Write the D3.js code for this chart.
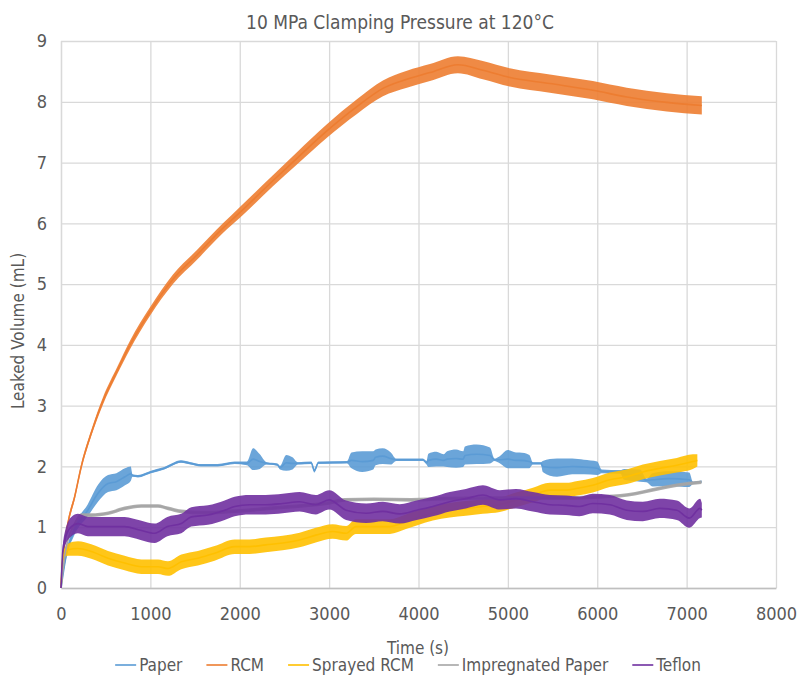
<!DOCTYPE html>
<html>
<head>
<meta charset="utf-8">
<script src="https://cdn.jsdelivr.net/npm/d3@7"></script>
<style>
body { margin: 0; background: #fff; }
text { font-family: "Liberation Sans Narrow", "DejaVu Sans Condensed", sans-serif; fill: #595959; }
</style>
</head>
<body>
<div class="wrapper"></div>
<script>

// values: time (s), mean volume (mL), noise half-width (mL)
var paperT = [0, 60, 150, 300, 414, 526, 620, 716, 780, 800, 861, 1007, 1156, 1342, 1450, 1566, 1753, 1943, 2080, 2150, 2225, 2300, 2420, 2450, 2520, 2590, 2650, 2800, 2835, 2880, 3200, 3250, 3370, 3494, 3520, 3600, 3690, 3750, 4050, 4090, 4110, 4200, 4280, 4320, 4420, 4500, 4520, 4650, 4800, 4850, 4900, 5000, 5090, 5130, 5240, 5280, 5370, 5390, 5550, 5720, 5850, 6000, 6050, 6260, 6300, 6480, 6550, 6620, 6800, 7030, 7070, 7166];
var paperV = [0, 0.55, 0.95, 1.28, 1.56, 1.72, 1.75, 1.83, 1.88, 1.85, 1.84, 1.91, 1.97, 2.08, 2.05, 2.02, 2.02, 2.06, 2.05, 2.12, 2.08, 2.05, 2.03, 1.98, 2.06, 2.05, 2.05, 2.06, 1.93, 2.06, 2.07, 2.10, 2.08, 2.10, 2.15, 2.17, 2.13, 2.11, 2.11, 2.06, 2.10, 2.12, 2.10, 2.12, 2.13, 2.12, 2.18, 2.20, 2.18, 2.11, 2.11, 2.12, 2.10, 2.10, 2.08, 2.05, 2.05, 2.00, 1.98, 2.00, 1.99, 1.97, 1.92, 1.91, 1.87, 1.85, 1.77, 1.78, 1.80, 1.78, 1.73, 1.75];
var paperN = [0, 0.05, 0.08, 0.10, 0.14, 0.14, 0.14, 0.14, 0.12, 0.02, 0.02, 0.02, 0.02, 0.02, 0.02, 0.02, 0.02, 0.02, 0.03, 0.18, 0.12, 0.02, 0.02, 0.03, 0.13, 0.10, 0.02, 0.02, 0.03, 0.02, 0.02, 0.13, 0.17, 0.15, 0.13, 0.13, 0.10, 0.02, 0.02, 0.03, 0.11, 0.12, 0.10, 0.13, 0.15, 0.13, 0.15, 0.16, 0.13, 0.02, 0.05, 0.15, 0.13, 0.13, 0.11, 0.02, 0.02, 0.09, 0.15, 0.13, 0.12, 0.11, 0.03, 0.03, 0.09, 0.10, 0.03, 0.11, 0.12, 0.12, 0.02, 0.02];

var rcmT = [0, 30, 78, 153, 227, 339, 470, 630, 772, 996, 1253, 1521, 1812, 2002, 2371, 2640, 2975, 3311, 3602, 3870, 4128, 4441, 4720, 5022, 5470, 5951, 6331, 6779, 7170];
var rcmV = [0, 0.60, 1.07, 1.50, 2.00, 2.55, 3.08, 3.58, 4.00, 4.55, 5.08, 5.48, 5.92, 6.18, 6.70, 7.07, 7.52, 7.92, 8.22, 8.37, 8.48, 8.61, 8.52, 8.40, 8.30, 8.19, 8.08, 7.99, 7.94];
var rcmN = [0, 0.05, 0.05, 0.05, 0.05, 0.05, 0.06, 0.06, 0.07, 0.07, 0.08, 0.08, 0.08, 0.09, 0.09, 0.10, 0.11, 0.12, 0.13, 0.14, 0.14, 0.14, 0.15, 0.15, 0.15, 0.15, 0.15, 0.15, 0.15];

var sprayT = [0, 22, 78, 190, 339, 526, 712, 899, 1085, 1197, 1346, 1532, 1719, 1943, 2110, 2290, 2480, 2670, 2850, 3040, 3190, 3300, 3490, 3680, 3860, 3980, 4160, 4350, 4530, 4720, 4910, 5090, 5280, 5470, 5650, 5780, 5950, 6140, 6330, 6510, 6700, 6890, 7070, 7120];
var sprayV = [0, 0.52, 0.63, 0.65, 0.60, 0.49, 0.41, 0.35, 0.35, 0.32, 0.43, 0.49, 0.57, 0.68, 0.68, 0.71, 0.74, 0.79, 0.87, 0.93, 0.90, 1.01, 1.01, 1.01, 1.09, 1.15, 1.23, 1.28, 1.31, 1.34, 1.37, 1.45, 1.53, 1.61, 1.61, 1.64, 1.69, 1.78, 1.83, 1.91, 1.97, 2.02, 2.08, 2.10];
var sprayN = [0, 0.06, 0.10, 0.12, 0.12, 0.12, 0.12, 0.12, 0.12, 0.12, 0.12, 0.12, 0.12, 0.12, 0.12, 0.12, 0.12, 0.12, 0.12, 0.12, 0.12, 0.12, 0.12, 0.12, 0.12, 0.12, 0.12, 0.12, 0.12, 0.12, 0.12, 0.12, 0.12, 0.12, 0.12, 0.12, 0.12, 0.12, 0.12, 0.12, 0.12, 0.12, 0.12, 0.10];

var impT = [0, 50, 150, 227, 339, 526, 712, 899, 1085, 1197, 1346, 1600, 2000, 2500, 3000, 3170, 3500, 3920, 4280, 4800, 5500, 6030, 6330, 6514, 6700, 6887, 7166];
var impV = [0, 0.60, 1.05, 1.20, 1.20, 1.23, 1.31, 1.35, 1.35, 1.31, 1.26, 1.24, 1.27, 1.33, 1.40, 1.45, 1.46, 1.45, 1.47, 1.48, 1.48, 1.50, 1.53, 1.58, 1.64, 1.69, 1.74];
var impN = [0, 0.02, 0.03, 0.03, 0.03, 0.03, 0.03, 0.03, 0.03, 0.03, 0.03, 0.03, 0.03, 0.03, 0.03, 0.03, 0.03, 0.03, 0.03, 0.03, 0.03, 0.03, 0.03, 0.03, 0.03, 0.03, 0.03];

var teflonT = [0, 20, 41, 116, 190, 300, 530, 712, 890, 1048, 1190, 1346, 1458, 1644, 1831, 1943, 2110, 2290, 2480, 2670, 2850, 3000, 3190, 3415, 3600, 3790, 3980, 4160, 4350, 4530, 4720, 4910, 5090, 5280, 5470, 5650, 5800, 5950, 6140, 6330, 6510, 6700, 6890, 7030, 7150, 7170];
var teflonV = [0, 0.60, 0.79, 1.01, 1.06, 1.01, 1.01, 1.01, 0.95, 0.90, 1.01, 1.06, 1.17, 1.20, 1.28, 1.34, 1.37, 1.37, 1.39, 1.42, 1.37, 1.45, 1.28, 1.23, 1.26, 1.22, 1.28, 1.34, 1.42, 1.47, 1.53, 1.45, 1.47, 1.42, 1.37, 1.36, 1.34, 1.39, 1.37, 1.28, 1.26, 1.31, 1.28, 1.15, 1.31, 1.28];
var teflonN = [0, 0.08, 0.12, 0.16, 0.16, 0.16, 0.16, 0.16, 0.16, 0.16, 0.16, 0.16, 0.16, 0.16, 0.16, 0.16, 0.16, 0.16, 0.16, 0.16, 0.16, 0.16, 0.16, 0.16, 0.16, 0.16, 0.16, 0.16, 0.16, 0.16, 0.16, 0.16, 0.16, 0.16, 0.16, 0.16, 0.16, 0.16, 0.16, 0.16, 0.16, 0.16, 0.16, 0.16, 0.16, 0.12];

var seriesNames = ["Paper", "RCM", "Sprayed RCM", "Impregnated Paper", "Teflon"];
var seriesColors = ["#5B9BD5", "#ED7D31", "#FFC000", "#A5A5A5", "#7030A0"];
var xTicks = [0, 1000, 2000, 3000, 4000, 5000, 6000, 7000, 8000];
var yTicks = [0, 1, 2, 3, 4, 5, 6, 7, 8, 9];

var chartTitle = "10 MPa Clamping Pressure at 120\u00B0C",
	xTitle = "Time (s)",
	yTitle = "Leaked Volume (mL)";

var WIDTH = 798,
	HEIGHT = 679,
	PLOT_LEFT = 61,
	PLOT_RIGHT = 776,
	PLOT_TOP = 41,
	PLOT_BOTTOM = 588;

function zipSeries(ts, vs, ns) {
	return ts.map(function(t, i) {
		return {t: t, v: vs[i], n: ns[i]};
	});
}

var dataset = [
	zipSeries(paperT, paperV, paperN),
	zipSeries(rcmT, rcmV, rcmN),
	zipSeries(sprayT, sprayV, sprayN),
	zipSeries(impT, impV, impN),
	zipSeries(teflonT, teflonV, teflonN)
];

var x = d3.scaleLinear().domain([0, 8000]).range([PLOT_LEFT, PLOT_RIGHT]);
var y = d3.scaleLinear().domain([0, 9]).range([PLOT_BOTTOM, PLOT_TOP]);

var svg = d3.select(".wrapper")
	.append("svg")
		.attr("width", WIDTH)
		.attr("height", HEIGHT);

// gridlines
svg.append("g")
	.attr("transform", "translate(0," + PLOT_BOTTOM + ")")
	.call(d3.axisBottom(x).tickValues(xTicks).tickSize(-(PLOT_BOTTOM - PLOT_TOP)).tickFormat(""))
	.call(function(g) { g.select(".domain").remove(); })
	.selectAll("line")
		.attr("stroke", "#D9D9D9")
		.attr("stroke-width", 1.3);

svg.append("g")
	.attr("transform", "translate(" + PLOT_LEFT + ",0)")
	.call(d3.axisLeft(y).tickValues(yTicks).tickSize(-(PLOT_RIGHT - PLOT_LEFT)).tickFormat(""))
	.call(function(g) { g.select(".domain").remove(); })
	.selectAll("line")
		.attr("stroke", "#D9D9D9")
		.attr("stroke-width", 1.3);

// tick labels
var xAxis = svg.append("g")
	.attr("transform", "translate(0," + PLOT_BOTTOM + ")")
	.call(d3.axisBottom(x).tickValues(xTicks).tickSize(0).tickPadding(19).tickFormat(d3.format("d")));
xAxis.select(".domain").attr("stroke", "#BFBFBF").attr("stroke-width", 1.3);
xAxis.selectAll("text")
	.style("font-size", "18px")
	.attr("fill", "#595959");

var yAxis = svg.append("g")
	.attr("transform", "translate(" + PLOT_LEFT + ",0)")
	.call(d3.axisLeft(y).tickValues(yTicks).tickSize(0).tickPadding(14).tickFormat(d3.format("d")));
yAxis.select(".domain").attr("stroke", "#D9D9D9").attr("stroke-width", 1.3);
yAxis.selectAll("text")
	.style("font-size", "18px")
	.attr("fill", "#595959");

// series: noise band + mean line
var band = d3.area()
	.curve(d3.curveMonotoneX)
	.x(function(d) { return x(d.t); })
	.y0(function(d) { return y(d.v - d.n); })
	.y1(function(d) { return y(d.v + d.n); });

var line = d3.line()
	.curve(d3.curveMonotoneX)
	.x(function(d) { return x(d.t); })
	.y(function(d) { return y(d.v); });

var series = svg.selectAll("g.series")
	.data(dataset)
	.enter()
	.append("g")
		.attr("class", "series");

series.append("path")
	.attr("d", band)
	.attr("fill", function(d, i) { return seriesColors[i]; })
	.attr("fill-opacity", 0.9);

series.append("path")
	.attr("d", line)
	.attr("fill", "none")
	.attr("stroke", function(d, i) { return seriesColors[i]; })
	.attr("stroke-width", 1.6);

// titles
svg.append("text")
	.text(chartTitle)
	.attr("x", 400)
	.attr("y", 29)
	.attr("text-anchor", "middle")
	.style("font-size", "19px");

svg.append("text")
	.text(xTitle)
	.attr("x", 418)
	.attr("y", 654)
	.attr("text-anchor", "middle")
	.style("font-size", "17px");

svg.append("text")
	.text(yTitle)
	.attr("transform", "translate(24,331) rotate(-90)")
	.attr("text-anchor", "middle")
	.style("font-size", "17px");

// legend, centred under the plot
var legend = svg.append("g").attr("class", "legend");
var items = legend.selectAll("g")
	.data(seriesNames)
	.enter()
	.append("g");

items.append("line")
	.attr("x1", 0)
	.attr("x2", 21)
	.attr("y1", -6)
	.attr("y2", -6)
	.attr("stroke", function(d, i) { return seriesColors[i]; })
	.attr("stroke-width", 1.6);

items.append("text")
	.text(function(d) { return d; })
	.attr("x", 24)
	.attr("y", 0)
	.style("font-size", "17px");

var offs = 0, offsets = [];
items.each(function() {
	offsets.push(offs);
	offs += 24 + d3.select(this).select("text").node().getComputedTextLength() + 24;
});
var total = offs - 24;
items.attr("transform", function(d, i) { return "translate(" + offsets[i] + ",0)"; });
legend.attr("transform", "translate(" + (408 - total / 2) + ",671)");

</script>
</body>
</html>
